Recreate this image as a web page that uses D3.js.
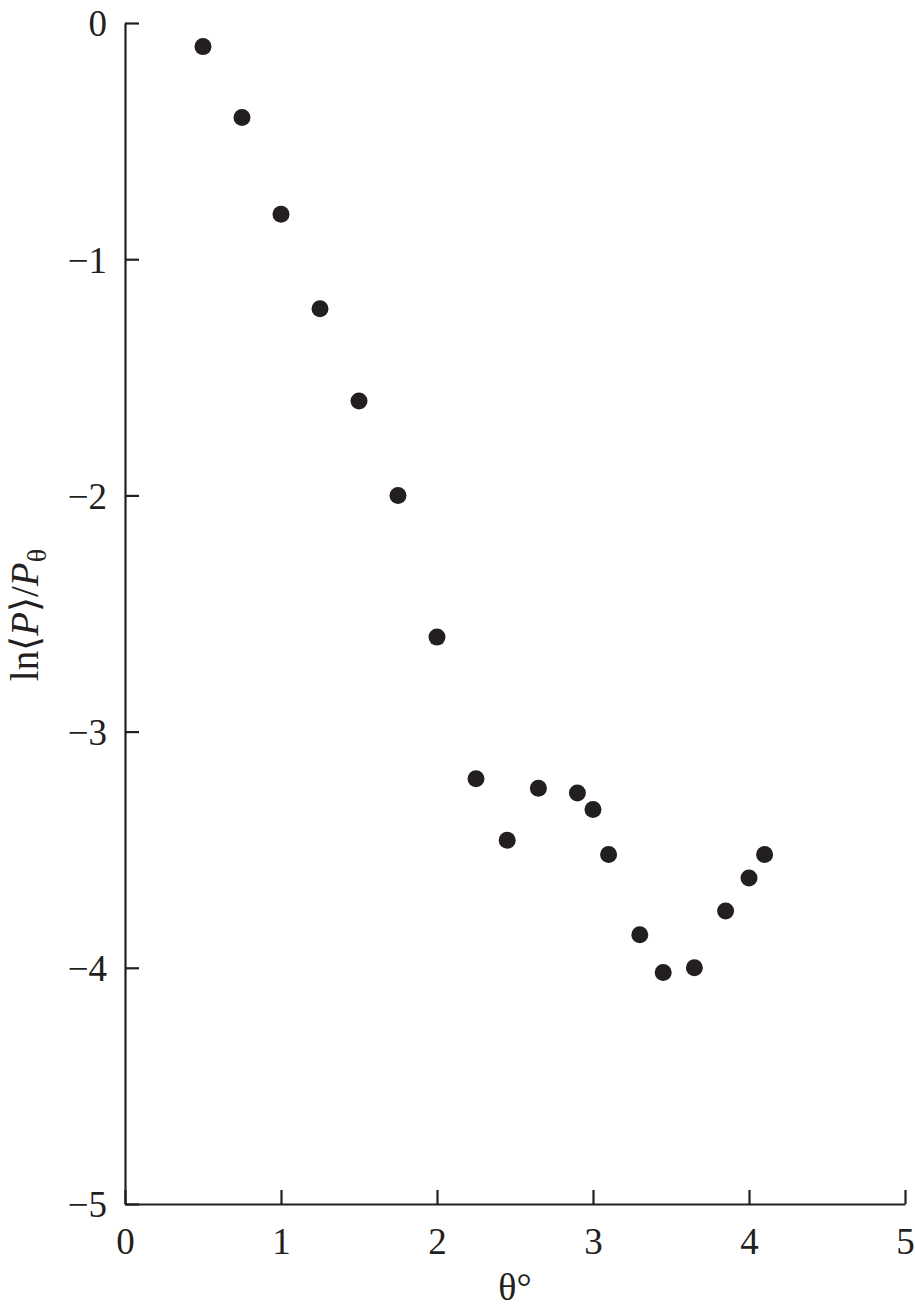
<!DOCTYPE html>
<html>
<head>
<meta charset="utf-8">
<script src="https://cdn.jsdelivr.net/npm/d3@7"></script>
<style>
html,body{margin:0;padding:0;background:#fff;}
svg{display:block;}
text{font-family:"Liberation Serif","Times New Roman",serif;fill:#231f20;}
</style>
</head>
<body>
<svg id="chart" width="915" height="1311"></svg>
<script>
const thetaValues = [0.5, 0.75, 1.0, 1.25, 1.5, 1.75, 2.0, 2.25, 2.45, 2.65, 2.9, 3.0, 3.1, 3.3, 3.45, 3.65, 3.85, 4.0, 4.1];
const lnValues = [-0.1, -0.4, -0.81, -1.21, -1.6, -2.0, -2.6, -3.2, -3.46, -3.24, -3.26, -3.33, -3.52, -3.86, -4.02, -4.0, -3.76, -3.62, -3.52];
const xTicks = [0, 1, 2, 3, 4, 5];
const yTicks = [0, -1, -2, -3, -4, -5];

const svg = d3.select("#chart");
const color = "#231f20";
const x = d3.scaleLinear().domain([0, 5]).range([125, 905]);
const y = d3.scaleLinear().domain([0, -5]).range([23, 1204]);

const fmt = d => d < 0 ? "\u2212" + Math.abs(d) : String(d);

const xAxis = svg.append("g").attr("transform", "translate(0,1204)")
  .call(d3.axisBottom(x).tickValues(xTicks).tickSize(-14).tickPadding(24).tickFormat(fmt).tickSizeOuter(0));
const yAxis = svg.append("g").attr("transform", "translate(125,0)")
  .call(d3.axisLeft(y).tickValues(yTicks).tickSize(-14).tickPadding(18).tickFormat(fmt).tickSizeOuter(0));

[xAxis, yAxis].forEach(g => {
  g.select(".domain").attr("stroke", color).attr("stroke-width", 2.2);
  g.selectAll(".tick line").attr("stroke", color).attr("stroke-width", 2.2);
  g.selectAll(".tick text").attr("font-size", 37).attr("fill", color)
    .style("font-family", "'Liberation Serif','Times New Roman',serif");
});
yAxis.selectAll(".tick text").attr("dy", "0.35em");
xAxis.selectAll(".tick text").attr("dy", "0.71em");

svg.append("g").selectAll("circle")
  .data(thetaValues.map((t, i) => [t, lnValues[i]]))
  .join("circle")
  .attr("cx", d => x(d[0]))
  .attr("cy", d => y(d[1]))
  .attr("r", 8.5)
  .attr("fill", color);

// x title
const xt = svg.append("text").attr("x", 515).attr("y", 1300).attr("text-anchor", "middle").attr("font-size", 38);
xt.append("tspan").text("\u03B8\u00B0");

// y title
const yt = svg.append("text").attr("transform", "translate(38,615) rotate(-90)").attr("text-anchor", "middle").attr("font-size", 39);
yt.append("tspan").text("ln\u27E8");
yt.append("tspan").attr("font-style", "italic").text("P");
yt.append("tspan").text("\u27E9/");
yt.append("tspan").attr("font-style", "italic").text("P");
yt.append("tspan").attr("font-size", 28).attr("dy", 8).text("\u03B8");
</script>
</body>
</html>
